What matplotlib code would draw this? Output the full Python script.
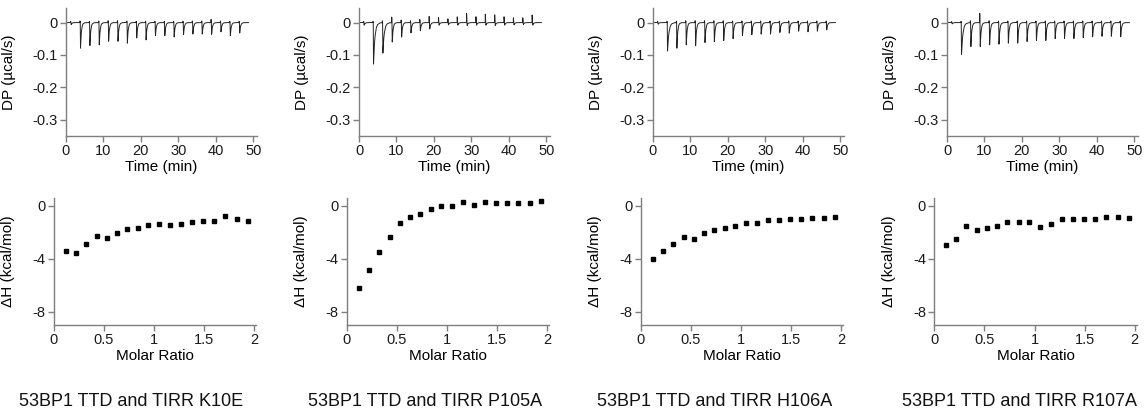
import numpy as np
import matplotlib
matplotlib.use('Agg')
import matplotlib.pyplot as plt

plt.rcParams['font.family'] = ['Liberation Sans', 'DejaVu Sans']
plt.rcParams['axes.unicode_minus'] = False

# injection times (min), shared by all four runs
inj_times = [1.2, 3.7, 6.2, 8.7, 11.2, 13.7, 16.2, 18.7, 21.2, 23.7,
             26.2, 28.7, 31.2, 33.7, 36.2, 38.7, 41.2, 43.7, 46.2]
run_end = 48.7

# raw thermogram: peak minimum and small upward spike per injection (ucal/s)
dp_k10e = [-0.006, -0.079, -0.071, -0.069, -0.058, -0.058, -0.064, -0.048, -0.054, -0.041,
           -0.041, -0.045, -0.038, -0.036, -0.036, -0.037, -0.029, -0.041, -0.033]
up_k10e = [0.004, 0.005, 0.004, 0.005, 0.006, 0.006, 0.005, 0.004, 0.005, 0.004,
           0.004, 0.004, 0.004, 0.005, 0.005, 0.010, 0.005, 0.004, 0.004]
dp_p105a = [-0.008, -0.128, -0.094, -0.060, -0.045, -0.032, -0.025, -0.020, -0.008, -0.007,
            -0.008, -0.009, -0.008, -0.008, -0.009, -0.008, -0.007, -0.006, -0.008]
up_p105a = [0.004, 0.004, 0.006, 0.018, 0.008, 0.006, 0.010, 0.020, 0.016, 0.012,
            0.018, 0.028, 0.018, 0.026, 0.024, 0.018, 0.015, 0.015, 0.024]
dp_h106a = [-0.005, -0.088, -0.079, -0.069, -0.072, -0.062, -0.059, -0.056, -0.050, -0.041,
            -0.038, -0.036, -0.036, -0.031, -0.033, -0.027, -0.029, -0.027, -0.023]
up_h106a = [0.004, 0.004, 0.005, 0.006, 0.006, 0.006, 0.006, 0.006, 0.005, 0.005,
            0.005, 0.005, 0.005, 0.005, 0.005, 0.005, 0.005, 0.005, 0.005]
dp_r107a = [-0.004, -0.098, -0.074, -0.074, -0.069, -0.067, -0.064, -0.064, -0.059, -0.056,
            -0.056, -0.050, -0.050, -0.050, -0.047, -0.045, -0.043, -0.043, -0.045]
up_r107a = [0.003, 0.004, 0.006, 0.030, 0.006, 0.005, 0.005, 0.005, 0.005, 0.005,
            0.005, 0.005, 0.005, 0.005, 0.005, 0.005, 0.005, 0.005, 0.005]

# integrated heats
molar_ratio = [0.12, 0.22, 0.32, 0.43, 0.53, 0.63, 0.73, 0.84, 0.94,
               1.05, 1.16, 1.27, 1.38, 1.49, 1.60, 1.71, 1.83, 1.94]
dh_k10e = [-3.44, -3.52, -2.86, -2.25, -2.43, -2.05, -1.75, -1.65, -1.44,
           -1.34, -1.42, -1.39, -1.19, -1.11, -1.16, -0.76, -0.96, -1.11]
dh_p105a = [-6.18, -4.81, -3.47, -2.33, -1.27, -0.86, -0.63, -0.25, 0.03,
            0.00, 0.28, 0.10, 0.28, 0.20, 0.25, 0.20, 0.20, 0.35]
dh_h106a = [-4.00, -3.39, -2.91, -2.33, -2.51, -2.08, -1.82, -1.67, -1.49,
            -1.27, -1.27, -1.04, -1.04, -0.99, -0.96, -0.91, -0.94, -0.84]
dh_r107a = [-2.96, -2.48, -1.49, -1.85, -1.65, -1.54, -1.19, -1.22, -1.19,
            -1.59, -1.37, -1.01, -1.01, -0.96, -0.96, -0.86, -0.86, -0.94]

titles = ['53BP1 TTD and TIRR K10E', '53BP1 TTD and TIRR P105A',
          '53BP1 TTD and TIRR H106A', '53BP1 TTD and TIRR R107A']
traces = [(dp_k10e, up_k10e), (dp_p105a, up_p105a), (dp_h106a, up_h106a), (dp_r107a, up_r107a)]
heats = [dh_k10e, dh_p105a, dh_h106a, dh_r107a]


def thermogram(times, down, up, t_end):
    # sharp spike at each injection, then decay back to baseline
    t = np.linspace(0, t_end, 6000)
    y = np.zeros_like(t)
    for ti, dn, upv in zip(times, down, up):
        tau = 0.35 if dn < -0.08 else 0.22
        st = [0, 0.03, 0.10, 0.18]
        sy = [0, upv, 0.3 * upv, dn]
        for k in [0.5, 1, 2, 3, 5, 8]:
            st.append(0.18 + k * tau)
            sy.append(dn * np.exp(-k))
        s = t - ti
        mask = (s >= 0) & (s <= st[-1])
        y[mask] += np.interp(s[mask], st, sy)
    return t, y


spine_col = '#7f7f7f'


def style(ax):
    for side in ['top', 'right']:
        ax.spines[side].set_visible(False)
    for side in ['left', 'bottom']:
        ax.spines[side].set_color(spine_col)
        ax.spines[side].set_linewidth(1.0)
    ax.tick_params(colors=spine_col, labelcolor='#1a1a1a', labelsize=10.5,
                   length=4, width=1.0, pad=2)


fig = plt.figure(figsize=(11.47, 4.17), dpi=100)
W, H = 1147.0, 417.0

top_left = [66, 359, 653, 947]
bot_left = [53.5, 346.7, 640.7, 934.3]
cap_x = [131, 425, 715, 1019]

for i in range(4):
    ax = fig.add_axes([top_left[i] / W, 281 / H, 191 / W, 128 / H])
    t, y = thermogram(inj_times, traces[i][0], traces[i][1], run_end)
    ax.plot(t, y, color='#222222', lw=0.7)
    ax.set_xlim(0, 51)
    ax.set_ylim(-0.35, 0.045)
    ax.set_xticks([0, 10, 20, 30, 40, 50])
    ax.set_yticks([0, -0.1, -0.2, -0.3])
    ax.set_yticklabels(['0', '-0.1', '-0.2', '-0.3'])
    ax.set_xlabel('Time (min)', fontsize=11, labelpad=1)
    ax.set_ylabel('DP (µcal/s)', fontsize=11)
    ax.yaxis.set_label_coords(-0.26, 0.5)
    style(ax)

    bx = fig.add_axes([bot_left[i] / W, 92 / H, 202.5 / W, 127 / H])
    bx.plot(molar_ratio, heats[i], 's', color='black', markersize=3.5)
    bx.set_xlim(0, 2.02)
    bx.set_ylim(-9, 0.6)
    bx.set_xticks([0, 0.5, 1, 1.5, 2])
    bx.set_xticklabels(['0', '0.5', '1', '1.5', '2'])
    bx.set_yticks([0, -4, -8])
    bx.set_xlabel('Molar Ratio', fontsize=11, labelpad=1)
    bx.set_ylabel('ΔH (kcal/mol)', fontsize=11)
    bx.yaxis.set_label_coords(-0.19, 0.5)
    style(bx)

    fig.text(cap_x[i] / W, 15 / H, titles[i], ha='center', va='center',
             fontsize=13, color='#111111')

fig.savefig('out.png', dpi=100, facecolor='white')
